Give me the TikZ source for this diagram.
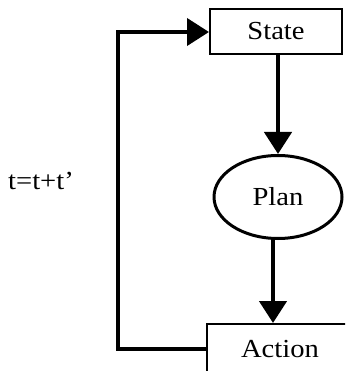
\documentclass[tikz,border=0pt]{standalone}
\usepackage{fontspec}
\setmainfont{Liberation Serif}[FakeStretch=1.1]
\usetikzlibrary{arrows.meta,shapes.geometric}
\begin{document}
\begin{tikzpicture}[x=1pt,y=-1pt,
  lbl/.style={font=\fontsize{26}{30}\selectfont},
  boxnode/.style={draw,line width=2pt,lbl,inner sep=0pt},
  ellnode/.style={draw,ellipse,line width=3pt,lbl,inner sep=0pt,minimum width=128pt,minimum height=83pt},
  conn/.style={line width=4.5pt},
  arr/.style={conn,-{Triangle[length=22pt,width=27pt]}}]
\useasboundingbox (0,0) rectangle (345,371);
\clip (0,0) rectangle (345,371);
\fill[white] (0,0) rectangle (345,371);
\node[boxnode,minimum width=132pt,minimum height=45pt] (state) at (276,31.5) {State};
\node[ellnode] (plan) at (278,197) {Plan};
\node[boxnode,minimum width=146pt,minimum height=50pt] (action) at (280,349) {Action};
\node[lbl] (t) at (41,181) {t=t+t’};
\draw[arr] ([xshift=2pt]state.south) -- (plan.north);
\draw[arr] ([xshift=-5pt]plan.south) -- ([xshift=-7pt]action.north);
\coordinate (tl) at (118,32);
\coordinate (bl) at (tl |- action.west);
\draw[arr,line width=4pt] (action.west) -- (bl) -- (tl) -- (tl -| state.west);
\end{tikzpicture}
\end{document}
